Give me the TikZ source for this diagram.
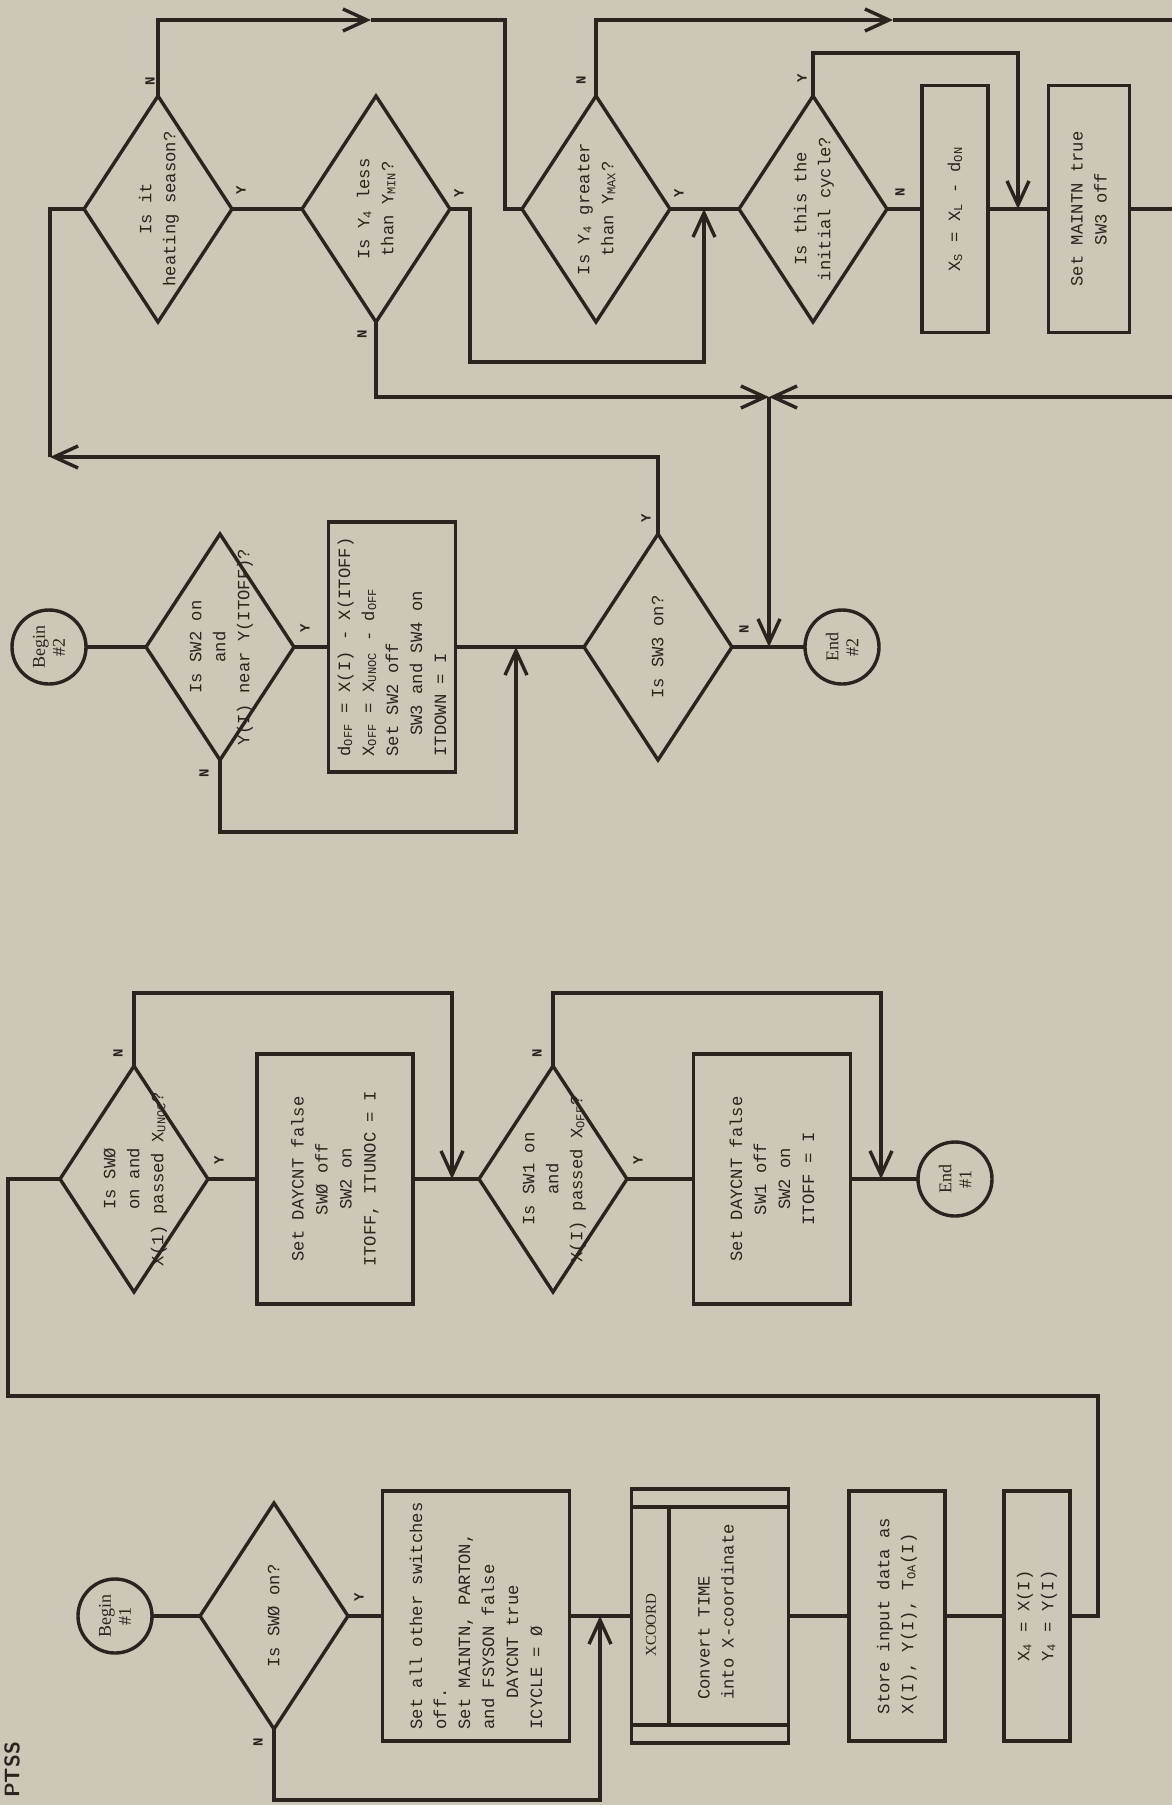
\documentclass[tikz,border=0pt]{standalone}
\usepackage{fontspec}
\setmonofont{Liberation Mono}
\newfontfamily\circfont{Liberation Serif}
\usetikzlibrary{arrows.meta,shapes.geometric}

\definecolor{paper}{RGB}{204,199,182}
\definecolor{ink}{RGB}{42,36,31}
% text of a decision box, kept out of the box size
\newcommand\qtext[1]{\smash{\makebox[0pt]{\raisebox{-.3em}{\begin{tabular}{@{}c@{}}#1\end{tabular}}}}}

\begin{document}
\begin{tikzpicture}[x=0.5pt,y=-0.5pt,
    every node/.style={rotate=90,text=ink},
    base/.style={draw=ink,line width=1.7pt,font=\ttfamily\fontsize{8.6}{12}\selectfont},
    decide/.style={base,diamond,inner sep=0pt,outer sep=0pt,minimum width=113pt,minimum height=74pt},
    proc/.style={base,rectangle,align=center,inner sep=1pt,outer sep=0pt,minimum width=125pt},
    termin/.style={base,circle,align=center,inner sep=0pt,outer sep=0pt,minimum size=37pt,
      font=\circfont\fontsize{9}{10}\selectfont},
    yn/.style={inner sep=0pt,font=\ttfamily\bfseries\fontsize{7}{8}\selectfont},
    wire/.style={draw=ink,line width=1.7pt},
    flow/.style={wire,-{Straight Barb[length=12pt,width=11pt]}}]
\path[use as bounding box,fill=paper] (0,0) rectangle (1172,1805);

\node[inner sep=0pt,font=\sffamily\bfseries\fontsize{10.5}{12}\selectfont] (hdr) at (12,1770) {PTSS};

% first column
\node[termin] (begin1) at (115,1616) {Begin\\\#1};
\node[decide] (d1) at (274,1616) {\qtext{Is SWØ on?}};
\node[proc,minimum height=93.5pt,align=left] (setall) at (476,1616)
  {Set all other switches\\off.\\Set MAINTN, PARTON,\\and FSYSON false\\\hspace*{1.8em}DAYCNT true\\ICYCLE = Ø};
\node[proc,minimum width=127pt,minimum height=78.5pt] (xcoord) at (710,1616) {};
\node[inner sep=0pt,font=\circfont\fontsize{7.5}{8}\selectfont] (xcname) at (651,1625) {XCOORD};
\node[align=left,inner sep=0pt,font=\ttfamily\fontsize{8.6}{12}\selectfont] (xctext) at (716,1612)
  {Convert TIME\\into X-coordinate};
\node[proc,minimum height=48pt,align=left] (store) at (897,1616)
  {Store input data as\\X(I), Y(I), T\textsubscript{OA}(I)};
\node[proc,minimum height=33pt] (x4) at (1037,1616) {X\textsubscript{4} = X(I)\\Y\textsubscript{4} = Y(I)};

% second column
\node[decide] (d2) at (134,1179) {\qtext{Is SWØ\\on and\\X(1) passed X\textsubscript{UNOC}?}};
\node[proc,minimum height=78pt] (sw0off) at (335,1179) {Set DAYCNT false\\SWØ off\\SW2 on\\ITOFF, ITUNOC = I};
\node[decide] (d3) at (553,1179) {\qtext{Is SW1 on\\and\\X(I) passed X\textsubscript{OFF}?}};
\node[proc,minimum height=78.5pt] (sw1off) at (772,1179) {Set DAYCNT false\\SW1 off\\SW2 on\\ITOFF = I};
\node[termin] (end1) at (955,1179) {End\\\#1};

% third column
\node[termin] (begin2) at (49,647) {Begin\\\#2};
\node[decide] (sw2) at (220,647) {\qtext{Is SW2 on\\and\\Y(I) near Y(ITOFF)?}};
\node[proc,minimum height=63.5pt,align=left] (doff) at (392,647)
  {d\textsubscript{OFF} = X(I) - X(ITOFF)\\X\textsubscript{OFF} = X\textsubscript{UNOC} - d\textsubscript{OFF}\\Set SW2 off\\\hspace*{1.2em}SW3 and SW4 on\\ITDOWN = I};
\node[decide] (sw3) at (658,647) {\qtext{Is SW3 on?}};
\node[termin] (end2) at (842,647) {End\\\#2};

% fourth column
\node[decide] (heat) at (158,209) {\qtext{Is it\\heating season?}};
\node[decide] (ymin) at (376,209) {\qtext{Is Y\textsubscript{4} less\\than Y\textsubscript{MIN}?}};
\node[decide] (ymax) at (596,209) {\qtext{Is Y\textsubscript{4} greater\\than Y\textsubscript{MAX}?}};
\node[decide] (init) at (813,209) {\qtext{Is this the\\initial cycle?}};
\node[proc,minimum width=123.5pt,minimum height=33pt] (xs) at (955,209)
  {X\textsubscript{S} = X\textsubscript{L} - d\textsubscript{ON}};
\node[proc,minimum width=123.5pt,minimum height=40.5pt] (maint) at (1089,209) {Set MAINTN true\\SW3 off};

% Y and N marks
\node[yn] (d1y) at ([shift={(11,-19)}]d1.south) {Y};
\node[yn] (d1n) at ([shift={(-16,13)}]d1.west) {N};
\node[yn] (d2y) at ([shift={(11,-19)}]d2.south) {Y};
\node[yn] (d2n) at ([shift={(-16,-13)}]d2.east) {N};
\node[yn] (d3y) at ([shift={(11,-19)}]d3.south) {Y};
\node[yn] (d3n) at ([shift={(-16,-13)}]d3.east) {N};
\node[yn] (sw2y) at ([shift={(11,-19)}]sw2.south) {Y};
\node[yn] (sw2n) at ([shift={(-16,13)}]sw2.west) {N};
\node[yn] (sw3y) at ([shift={(-12,-16)}]sw3.east) {Y};
\node[yn] (sw3n) at ([shift={(12,-18)}]sw3.south) {N};
\node[yn] (heaty) at ([shift={(9,-19)}]heat.south) {Y};
\node[yn] (heatn) at ([shift={(-8,-15)}]heat.east) {N};
\node[yn] (yminy) at ([shift={(9,-16)}]ymin.south) {Y};
\node[yn] (yminn) at ([shift={(-14,12)}]ymin.west) {N};
\node[yn] (ymaxy) at ([shift={(9,-16)}]ymax.south) {Y};
\node[yn] (ymaxn) at ([shift={(-15,-16)}]ymax.east) {N};
\node[yn] (inity) at ([shift={(-11,-18)}]init.east) {Y};
\node[yn] (initn) at ([shift={(13,-17)}]init.south) {N};

% bends and joins
\coordinate (ja) at (600,1616);
\coordinate (ca) at (600,1800);
\coordinate (cb) at (1098,1396);
\coordinate (cc) at (8,1179);
\coordinate (jb1) at (452,1179);
\coordinate (cd) at (452,993);
\coordinate (jb2) at (881,1179);
\coordinate (ce) at (881,993);
\coordinate (jc1) at (516,647);
\coordinate (cf) at (516,832);
\coordinate (cl) at (50,457);
\coordinate (jn) at (769,397);
\coordinate (jc2) at (769,647);
\coordinate (m1) at (371,20);
\coordinate (cg) at (505,209);
\coordinate (ch) at (470,362);
\coordinate (jd1) at (704,209);
\coordinate (m2) at (893,20);
\coordinate (e1) at (1172,20);
\coordinate (ci) at (1018,53);
\coordinate (jd2) at (1018,209);
\coordinate (e2) at (1172,209);
\coordinate (e3) at (1172,397);

\draw[wire] (632,1507) -- (789,1507) (632,1725) -- (789,1725) (669,1507) -- (669,1725);

% first column
\draw[wire] (begin1) -- (d1.north);
\draw[wire] (d1.south) -- (setall);
\draw[flow] (d1.west) |- (ca) -- (ja);
\draw[wire] (setall) -- (xcoord) -- (store) -- (x4);
\draw[wire] (x4.south) -| (cb) -| (cc) -- (d2.north);

% second column
\draw[wire] (d2.south) -- (sw0off);
\draw[flow] (d2.east) |- (cd) -- (jb1);
\draw[wire] (sw0off) -- (d3.north);
\draw[wire] (d3.south) -- (sw1off);
\draw[flow] (d3.east) |- (ce) -- (jb2);
\draw[wire] (sw1off) -- (end1);

% third column
\draw[wire] (begin2) -- (sw2.north);
\draw[wire] (sw2.south) -- (doff);
\draw[flow] (sw2.west) |- (cf) -- (jc1);
\draw[wire] (doff) -- (sw3.north);
\draw[flow] (sw3.east) |- (cl);
\draw[wire] (cl) |- (heat.north);
\draw[wire] (sw3.south) -- (end2);
\draw[flow] (jn) -- (jc2);

% fourth column
\draw[wire] (heat.south) -- (ymin.north);
\draw[flow] (heat.east) |- (m1);
\draw[wire] (m1) -| (cg) -- (ymax.north);
\draw[flow] (ymin.south) -| (ch) -| (jd1);
\draw[flow] (ymin.west) |- (jn);
\draw[wire] (ymax.south) -- (init.north);
\draw[flow] (ymax.east) |- (m2);
\draw[wire] (m2) -- (e1);
\draw[flow] (init.east) |- (ci) -- (jd2);
\draw[wire] (init.south) -- (xs);
\draw[wire] (xs) -- (maint);
\draw[wire] (maint) -- (e2);
\draw[flow] (e3) -- (jn);
\end{tikzpicture}
\end{document}
